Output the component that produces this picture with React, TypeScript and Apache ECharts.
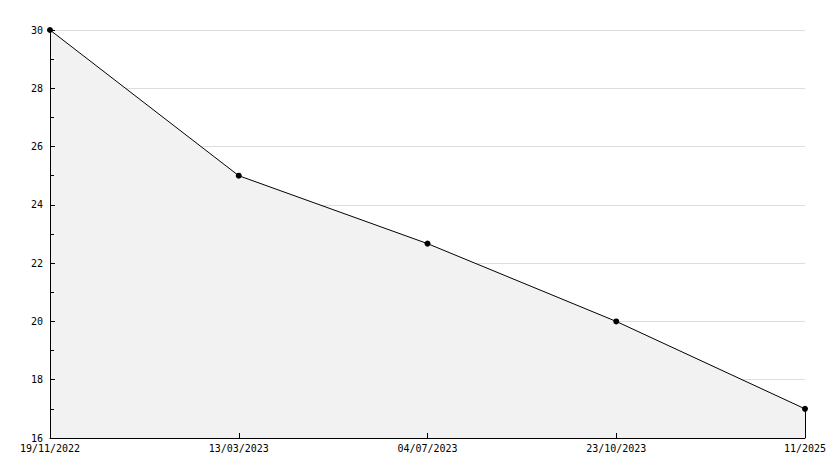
import React, { useEffect, useRef } from "react";
import * as echarts from "echarts";

const categories = ["19/11/2022", "13/03/2023", "04/07/2023", "23/10/2023", "11/2025"];
const values = [30, 25, 22.67, 20, 17];
const yMin = 16;
const yMax = 30;
const yStep = 2;

export default function App() {
  const ref = useRef<HTMLDivElement>(null);
  useEffect(() => {
    const chart = echarts.init(ref.current!, null, { renderer: "svg" });
    const font = "DejaVu Sans Mono";
    const last = categories.length - 1;
    chart.setOption({
      animation: false,
      backgroundColor: "#ffffff",
      grid: { left: 50, right: 29, top: 30, bottom: 30, containLabel: false },
      xAxis: [
        {
          type: "category",
          data: categories,
          boundaryGap: false,
          z: 0,
          axisLine: { show: false },
          axisTick: { show: false },
          axisLabel: { color: "#000", fontFamily: font, fontSize: 10, margin: 5, showMinLabel: true, showMaxLabel: true },
          splitLine: { show: false },
        },
        {
          type: "category",
          data: categories,
          boundaryGap: false,
          position: "bottom",
          z: 10,
          axisLine: { show: true, lineStyle: { color: "#000", width: 1 } },
          axisTick: { show: true, inside: true, length: 5, lineStyle: { color: "#000" } },
          axisLabel: { show: false },
          splitLine: { show: false },
        },
      ],
      yAxis: [
        {
          type: "value",
          min: yMin,
          max: yMax,
          interval: yStep,
          z: 0,
          axisLine: { show: false },
          axisTick: { show: false },
          axisLabel: { color: "#000", fontFamily: font, fontSize: 10, margin: 7 },
          splitLine: { show: true, lineStyle: { color: "#dddddd", width: 1 } },
        },
        {
          type: "value",
          min: yMin,
          max: yMax,
          interval: yStep,
          position: "left",
          z: 10,
          axisLine: { show: true, lineStyle: { color: "#000", width: 1 } },
          axisTick: { show: true, inside: true, length: 5, lineStyle: { color: "#000" } },
          minorTick: { show: true, splitNumber: 2, length: 4, lineStyle: { color: "#000" } },
          axisLabel: { show: false },
          splitLine: { show: false },
        },
      ],
      series: [
        {
          type: "line",
          data: values,
          xAxisIndex: 0,
          yAxisIndex: 0,
          symbol: "circle",
          symbolSize: 6,
          itemStyle: { color: "#000" },
          lineStyle: { color: "#000", width: 1 },
          areaStyle: { color: "#f2f2f2", opacity: 1, origin: "start" },
          z: 3,
          markLine: {
            silent: true,
            symbol: ["none", "none"],
            label: { show: false },
            lineStyle: { color: "#000", width: 1, type: "solid" },
            data: [[{ coord: [last, values[last]] }, { coord: [last, yMin] }]],
          },
        },
      ],
    });
    return () => chart.dispose();
  }, []);
  return <div ref={ref} style={{ width: 834, height: 468, position: "absolute", left: 0, top: 0 }} />;
}
